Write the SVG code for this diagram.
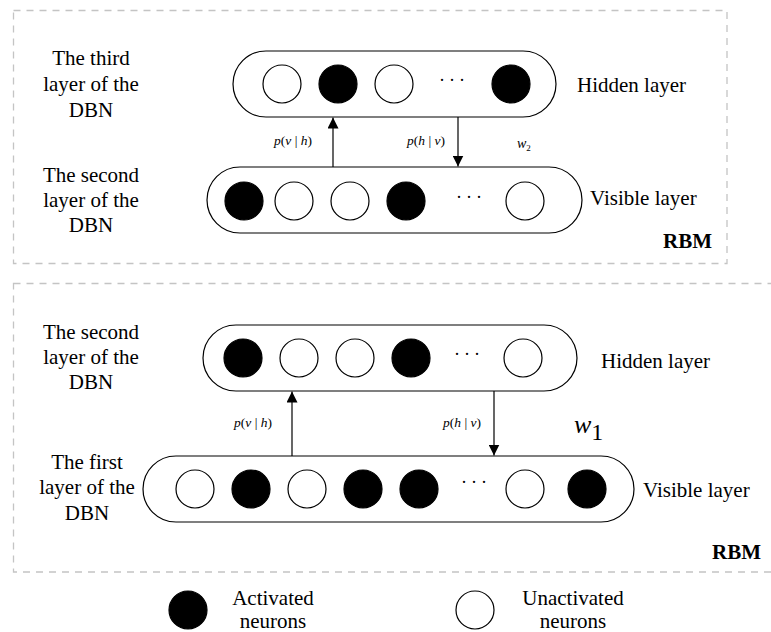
<svg xmlns="http://www.w3.org/2000/svg" width="771" height="632" viewBox="0 0 771 632" font-family="'Liberation Serif', 'DejaVu Serif', serif">
  <defs>
    <style>
      .frame { fill: none; stroke: #c4c4c4; stroke-width: 1.3; stroke-dasharray: 7 6; }
      .pill { fill: #fff; stroke: #000; stroke-width: 1.2; }
      .on { fill: #000; stroke: #000; stroke-width: 1.2; }
      .off { fill: #fff; stroke: #000; stroke-width: 1.2; }
      text { font-family: 'Liberation Serif', 'DejaVu Serif', serif; fill: #000; }
      .lbl { font-size: 21px; }
      .mid { text-anchor: middle; }
      .prob { font-size: 13.5px; }
      .it { font-style: italic; }
      .dots { font-size: 18px; letter-spacing: 4px; }
      .rbm { font-size: 21px; font-weight: bold; text-anchor: end; }
      .edge { stroke: #000; stroke-width: 1.2; fill: none; }
    </style>
    <marker id="head" viewBox="0 0 10 10" refX="10" refY="5" markerWidth="11" markerHeight="11" markerUnits="userSpaceOnUse" orient="auto">
      <path d="M0,0 L10,5 L0,10 Z" fill="#000"/>
    </marker>
  </defs>
  <rect width="771" height="632" fill="#fff"/>

  <!-- RBM frames -->
  <rect class="frame" x="13.5" y="10.5" width="713.5" height="253"/>
  <rect class="frame" x="13.5" y="283.5" width="800" height="288.5"/>
  <text class="rbm" x="712" y="248">RBM</text>
  <text class="rbm" x="761" y="559">RBM</text>

  <!-- upper RBM: hidden layer -->
  <g id="upper-hidden">
    <rect class="pill" x="233" y="51" width="323" height="66" rx="33"/>
    <circle class="off" cx="282" cy="84" r="19"/>
    <circle class="on" cx="338" cy="84" r="19"/>
    <circle class="off" cx="394" cy="84" r="19"/>
    <text class="dots" x="439" y="85.5">···</text>
    <circle class="on" cx="511" cy="84" r="19"/>
    <text class="lbl" x="577" y="92">Hidden layer</text>
    <text class="lbl mid" x="91" y="65">The third</text>
    <text class="lbl mid" x="91" y="91">layer of the</text>
    <text class="lbl mid" x="91" y="117">DBN</text>
  </g>

  <!-- upper RBM: visible layer -->
  <g id="upper-visible">
    <rect class="pill" x="207" y="167" width="375" height="66" rx="33"/>
    <circle class="on" cx="244" cy="201" r="19"/>
    <circle class="off" cx="294" cy="201" r="19"/>
    <circle class="off" cx="350" cy="201" r="19"/>
    <circle class="on" cx="406" cy="201" r="19"/>
    <text class="dots" x="456" y="202.5">···</text>
    <circle class="off" cx="525" cy="201" r="19"/>
    <text class="lbl" x="590" y="205">Visible layer</text>
    <text class="lbl mid" x="91" y="182">The second</text>
    <text class="lbl mid" x="91" y="207">layer of the</text>
    <text class="lbl mid" x="91" y="232">DBN</text>
  </g>

  <!-- lower RBM: hidden layer -->
  <g id="lower-hidden">
    <rect class="pill" x="203" y="325" width="374" height="66" rx="33"/>
    <circle class="on" cx="243" cy="358" r="19"/>
    <circle class="off" cx="299" cy="358" r="19"/>
    <circle class="off" cx="355" cy="358" r="19"/>
    <circle class="on" cx="411" cy="358" r="19"/>
    <text class="dots" x="454" y="359.5">···</text>
    <circle class="off" cx="523" cy="358" r="19"/>
    <text class="lbl" x="601" y="368">Hidden layer</text>
    <text class="lbl mid" x="91" y="339">The second</text>
    <text class="lbl mid" x="91" y="364">layer of the</text>
    <text class="lbl mid" x="91" y="389">DBN</text>
  </g>

  <!-- lower RBM: visible layer -->
  <g id="lower-visible">
    <rect class="pill" x="143" y="456" width="491" height="66" rx="33"/>
    <circle class="off" cx="195" cy="489" r="19"/>
    <circle class="on" cx="251" cy="489" r="19"/>
    <circle class="off" cx="307" cy="489" r="19"/>
    <circle class="on" cx="363" cy="489" r="19"/>
    <circle class="on" cx="419" cy="489" r="19"/>
    <text class="dots" x="461" y="487.5">···</text>
    <circle class="off" cx="525" cy="489" r="19"/>
    <circle class="on" cx="587" cy="489" r="19"/>
    <text class="lbl" x="643" y="497">Visible layer</text>
    <text class="lbl mid" x="87" y="469">The first</text>
    <text class="lbl mid" x="87" y="494">layer of the</text>
    <text class="lbl mid" x="87" y="520">DBN</text>
  </g>

  <!-- connectors between layers -->
  <g id="connectors">
    <line class="edge" x1="333" y1="167" x2="333" y2="117.5" marker-end="url(#head)"/>
    <line class="edge" x1="458" y1="117" x2="458" y2="166.5" marker-end="url(#head)"/>
    <line class="edge" x1="292" y1="456" x2="292" y2="391.5" marker-end="url(#head)"/>
    <line class="edge" x1="494" y1="391" x2="494" y2="455.5" marker-end="url(#head)"/>
    <text class="prob" x="274" y="145"><tspan class="it">p</tspan>(<tspan class="it">v</tspan> | <tspan class="it">h</tspan>)</text>
    <text class="prob" x="407" y="145"><tspan class="it">p</tspan>(<tspan class="it">h</tspan> | <tspan class="it">v</tspan>)</text>
    <text class="it" x="517" y="148" style="font-size:14px">w<tspan style="font-size:9px;font-style:normal" dy="3">2</tspan></text>
    <text class="prob" x="234" y="427"><tspan class="it">p</tspan>(<tspan class="it">v</tspan> | <tspan class="it">h</tspan>)</text>
    <text class="prob" x="443" y="427"><tspan class="it">p</tspan>(<tspan class="it">h</tspan> | <tspan class="it">v</tspan>)</text>
    <text class="it" x="574" y="433" style="font-size:26px">w<tspan style="font-style:normal;font-size:24px" dy="7">1</tspan></text>
  </g>

  <!-- legend -->
  <g id="legend-activated">
    <circle class="on" cx="188" cy="610" r="19"/>
    <text class="lbl mid" x="273" y="605">Activated</text>
    <text class="lbl mid" x="273" y="628">neurons</text>
  </g>
  <g id="legend-unactivated">
    <circle class="off" cx="475" cy="610" r="19"/>
    <text class="lbl mid" x="573" y="605">Unactivated</text>
    <text class="lbl mid" x="573" y="628">neurons</text>
  </g>
</svg>
